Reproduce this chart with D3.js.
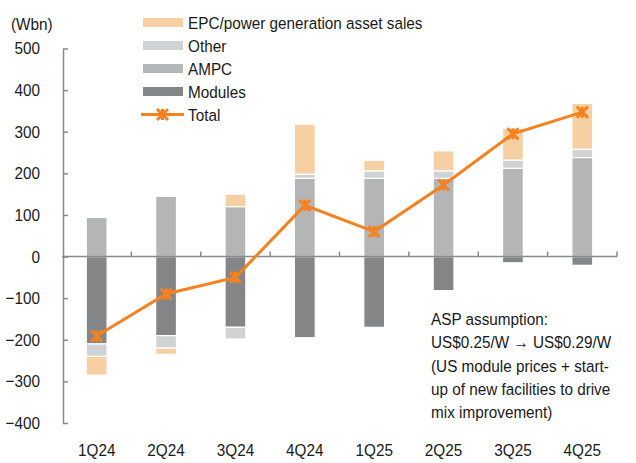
<!DOCTYPE html>
<html>
<head>
<meta charset="utf-8">
<script src="https://cdnjs.cloudflare.com/ajax/libs/d3/7.8.5/d3.min.js"></script>
<style>
 body { margin: 0; background: #fff; }
 svg text { font-family: "Liberation Sans", Arial, sans-serif; font-size: 17px; fill: #1a1a1a; }
 .axis path, .axis line { stroke: #8a8a8a; stroke-width: 1.5; fill: none; }
</style>
</head>
<body>
<svg id="chart"></svg>
<script>
 var categories = ["1Q24", "2Q24", "3Q24", "4Q24", "1Q25", "2Q25", "3Q25", "4Q25"];
 var modules = [-210, -190, -170, -195, -170, -82, -15, -21];
 var ampc    = [94, 145, 120, 188, 188, 188, 212, 238];
 var other   = [-30, -30, -28, 10, 18, 18, 20, 20];
 var epc     = [-45, -15, 30, 120, 25, 48, 76, 110];
 var total   = [-191, -90, -50, 123, 60, 172, 295, 347];
 var yTicks  = [500, 400, 300, 200, 100, 0, -100, -200, -300, -400];

 var width = 636, height = 463;
 var colors = {modules: "#838587", ampc: "#b4b5b7", other: "#d1d2d4", epc: "#f6cfa3"};
 var orange = "#f58220";
 var sx = 0.9; // narrow look, the source font is a condensed sans

 var svg = d3.select("#chart").attr("width", width).attr("height", height);

 // text helper: place at (px,py) then squeeze horizontally
 function label(g, px, py, str, anchor) {
     return g.append("text")
	     .attr("transform", "translate(" + px + "," + py + ") scale(" + sx + ",1)")
	     .attr("text-anchor", anchor || "start")
	     .text(str);
 }

 var x = d3.scaleBand().domain(categories).range([62, 617]).padding(0);
 var y = d3.scaleLinear().domain([-400, 500]).range([423, 48.5]);
 var barW = x.bandwidth() * 0.3;

 var rows = categories.map(function(c, i) {
     return {cat: c, modules: modules[i], ampc: ampc[i], other: other[i], epc: epc[i]};
 });
 var stack = d3.stack()
	       .keys(["modules", "ampc", "other", "epc"])
	       .offset(d3.stackOffsetDiverging);
 var series = stack(rows);

 svg.append("g").selectAll("g")
    .data(series)
    .join("g")
    .attr("fill", function(d) { return colors[d.key]; })
    .selectAll("rect")
    .data(function(d) { return d; })
    .join("rect")
    .attr("x", function(d) { return x(d.data.cat) + x.bandwidth() / 2 - barW / 2; })
    .attr("width", barW)
    .attr("y", function(d) { return y(Math.max(d[0], d[1])); })
    .attr("height", function(d) { return Math.abs(y(d[0]) - y(d[1])); })
    .attr("stroke", "#fff")
    .attr("stroke-width", 1.2);

 // y axis, ticks pointing inward
 var yAxis = svg.append("g")
		.attr("class", "axis")
		.attr("transform", "translate(63,0)")
		.call(d3.axisLeft(y).tickValues(yTicks).tickSize(-5).tickSizeOuter(0).tickPadding(23));
 yAxis.selectAll("text")
      .style("font-size", "17px")
      .attr("fill", "#1a1a1a")
      .attr("x", -23 / sx)
      .attr("transform", "scale(" + sx + ",1)");

 // category axis at zero
 var xg = svg.append("g").attr("class", "axis");
 xg.append("line")
   .attr("x1", x.range()[0]).attr("x2", x.range()[1])
   .attr("y1", y(0)).attr("y2", y(0));
 var bounds = categories.map(function(c) { return x(c); }).concat([x.range()[1]]);
 xg.selectAll(".tk")
   .data(bounds.slice(1))
   .join("line")
   .attr("class", "tk")
   .attr("x1", function(d) { return d; }).attr("x2", function(d) { return d; })
   .attr("y1", y(0)).attr("y2", y(0) - 5);

 var catg = svg.append("g");
 categories.forEach(function(c) {
     label(catg, x(c) + x.bandwidth() / 2, 456, c, "middle");
 });

 // total line
 var line = d3.line()
	      .x(function(d, i) { return x(categories[i]) + x.bandwidth() / 2; })
	      .y(function(d) { return y(d); });
 svg.append("path")
    .datum(total)
    .attr("d", line)
    .attr("fill", "none")
    .attr("stroke", orange)
    .attr("stroke-width", 3);

 function starMarker(g, cx, cy) {
     var r = 5.5;
     g.append("path")
      .attr("d", "M" + (cx - r) + "," + (cy - r) + "L" + (cx + r) + "," + (cy + r) +
		 "M" + (cx - r) + "," + (cy + r) + "L" + (cx + r) + "," + (cy - r) +
		 "M" + cx + "," + (cy - r) + "L" + cx + "," + (cy + r))
      .attr("stroke", orange)
      .attr("stroke-width", 3)
      .attr("fill", "none");
 }
 var mk = svg.append("g");
 total.forEach(function(d, i) {
     starMarker(mk, x(categories[i]) + x.bandwidth() / 2, y(d));
 });

 // unit label
 label(svg, 11, 30, "(Wbn)");

 // legend
 var legendItems = [
     {label: "EPC/power generation asset sales", color: colors.epc},
     {label: "Other", color: colors.other},
     {label: "AMPC", color: colors.ampc},
     {label: "Modules", color: colors.modules},
     {label: "Total", color: orange, line: true}
 ];
 var lg = svg.append("g");
 legendItems.forEach(function(it, i) {
     var cy = 22.5 + i * 23;
     if (it.line) {
	 lg.append("line").attr("x1", 141).attr("x2", 184).attr("y1", cy).attr("y2", cy)
	   .attr("stroke", orange).attr("stroke-width", 3);
	 starMarker(lg, 162.5, cy);
     } else {
	 lg.append("rect").attr("x", 143).attr("y", cy - 4.5).attr("width", 40).attr("height", 9)
	   .attr("fill", it.color);
     }
     label(lg, 188, cy + 6.5, it.label);
 });

 // annotation
 var note = ["ASP assumption:", "US$0.25/W \u2192 US$0.29/W", "(US module prices + start-",
	     "up of new facilities to drive", "mix improvement)"];
 var ng = svg.append("g");
 note.forEach(function(t, i) {
     label(ng, 431, 325 + i * 23.3, t);
 });
</script>
</body>
</html>
